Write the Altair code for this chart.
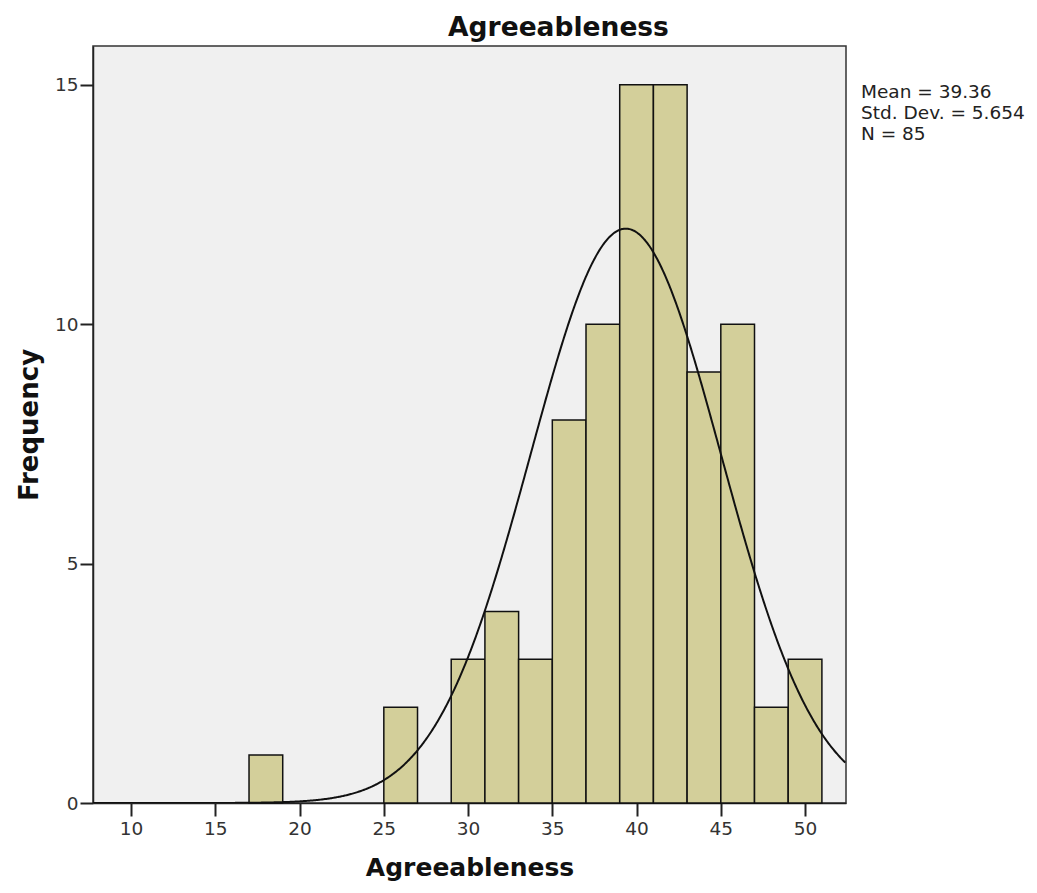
import altair as alt
import pandas as pd

# ---- data ----
bin_lo = [17, 25, 29, 31, 33, 35, 37, 39, 41, 43, 45, 47, 49]
bin_hi = [19, 27, 31, 33, 35, 37, 39, 41, 43, 45, 47, 49, 51]
counts = [1, 2, 3, 4, 3, 8, 10, 15, 15, 9, 10, 2, 3]
mean_val = 39.36
sd_val = 5.654
n_val = 85
bin_width = 2
stats_lines = ["Mean = 39.36", "Std. Dev. = 5.654", "N = 85"]
x_ticks = [10, 15, 20, 25, 30, 35, 40, 45, 50]
y_ticks = [0, 5, 10, 15]
x_domain = [7.74, 52.43]
y_domain = [0, 15.81]

FONT = "DejaVu Sans"

bars_df = pd.DataFrame({"lo": bin_lo, "hi": bin_hi, "count": counts})

x_scale = alt.Scale(domain=x_domain, nice=False, zero=False)
y_scale = alt.Scale(domain=y_domain, nice=False, zero=True)

x_axis = alt.Axis(values=x_ticks, title="Agreeableness", grid=False,
                  labelFontSize=18.5, labelColor="#333", labelFont=FONT,
                  tickSize=13, tickColor="#222", tickWidth=2,
                  domainColor="#222", domainWidth=1.5,
                  titleFontSize=25, titleFont=FONT, titleFontWeight="bold",
                  titleColor="#111", titlePadding=18, labelPadding=3)
y_axis = alt.Axis(values=y_ticks, title="Frequency", grid=False,
                  labelFontSize=18.5, labelColor="#333", labelFont=FONT,
                  tickSize=13, tickColor="#222", tickWidth=2,
                  domainColor="#222", domainWidth=1.5,
                  titleFontSize=26, titleFont=FONT, titleFontWeight="bold",
                  titleColor="#111", titlePadding=12, labelPadding=2)

bars = alt.Chart(bars_df).mark_rect(
    fill="#d3cf9a", stroke="#111", strokeWidth=1.5
).encode(
    x=alt.X("lo:Q", scale=x_scale, axis=x_axis),
    x2="hi:Q",
    y=alt.Y("count:Q", scale=y_scale, axis=y_axis),
    y2=alt.datum(0),
)

curve = alt.Chart(
    alt.sequence(x_domain[0], x_domain[1], 0.05, as_="x")
).transform_calculate(
    y=f"{n_val * bin_width} * densityNormal(datum.x, {mean_val}, {sd_val})"
).mark_line(color="#111", strokeWidth=2, clip=True).encode(
    x=alt.X("x:Q", scale=x_scale),
    y=alt.Y("y:Q", scale=y_scale),
)

stats = alt.Chart(pd.DataFrame({"t": [0]})).mark_text(
    align="left", baseline="top", fontSize=18.5, font=FONT, color="#222",
    lineHeight=21
).encode(
    x=alt.value(768),
    y=alt.value(37),
    text=alt.value(stats_lines),
)

chart = alt.layer(bars, curve, stats).properties(
    width=753,
    height=757,
    title=alt.TitleParams(text="Agreeableness", fontSize=26.5, font=FONT,
                          fontWeight="bold", color="#111", anchor="middle",
                          dx=89, offset=5),
    background="white",
    padding={"left": 8, "top": 6, "right": 0, "bottom": 0},
).configure_view(
    fill="#f0f0f0", stroke="#333", strokeWidth=1.5
)

chart.save("out.html", embed_options={"renderer": "svg", "actions": False})
